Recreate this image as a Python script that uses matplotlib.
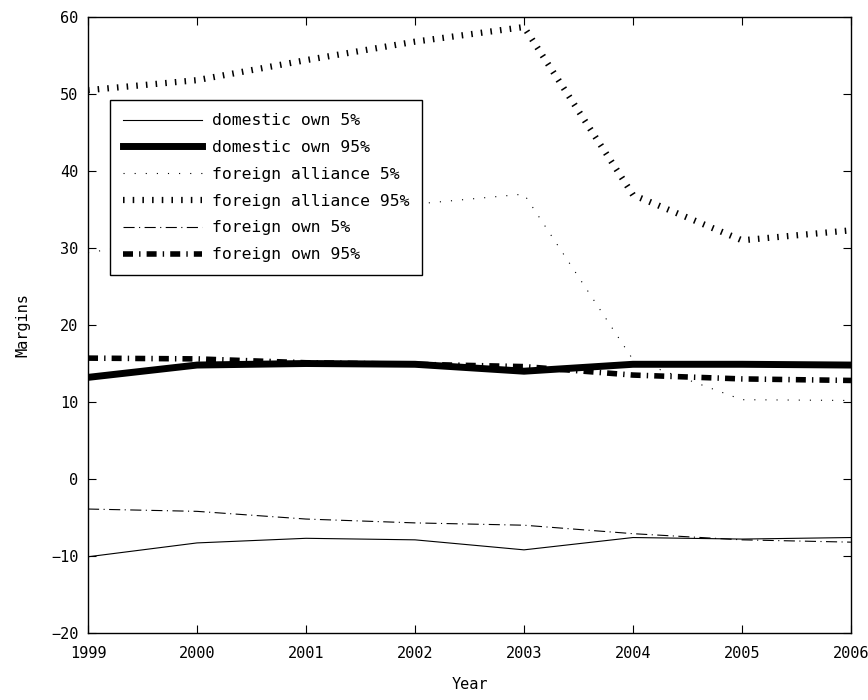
import numpy as np
import matplotlib
matplotlib.use('Agg')
import matplotlib.pyplot as plt

years = [1999, 2000, 2001, 2002, 2003, 2004, 2005, 2006]

dom_own_5 = [-10.1, -8.3, -7.7, -7.9, -9.2, -7.6, -7.8, -7.6]
dom_own_95 = [13.2, 14.8, 15.0, 14.9, 14.0, 14.9, 14.9, 14.8]
for_all_5 = [29.4, 31.5, 33.8, 35.7, 37.0, 15.5, 10.3, 10.2]
for_all_95 = [50.5, 51.8, 54.4, 56.8, 58.7, 36.9, 31.0, 32.3]
for_own_5 = [-3.9, -4.2, -5.2, -5.7, -6.0, -7.1, -7.9, -8.2]
for_own_95 = [15.7, 15.6, 15.1, 14.9, 14.6, 13.5, 13.0, 12.8]

labels = ['domestic own 5%', 'domestic own 95%', 'foreign alliance 5%',
          'foreign alliance 95%', 'foreign own 5%', 'foreign own 95%']

plt.rcParams['font.family'] = ['DejaVu Sans Mono']

fig = plt.figure(figsize=(8.68, 7.0), dpi=100)
ax = fig.add_axes([0.1014, 0.0957, 0.879, 0.88])

ax.plot(years, dom_own_5, color='black', linewidth=0.8, label=labels[0])
ax.plot(years, dom_own_95, color='black', linewidth=5, label=labels[1])
ax.plot(years, for_all_5, color='black', linewidth=0.8,
        linestyle=(0, (1, 9)), label=labels[2])
ax.plot(years, for_all_95, color='black', linewidth=4.5,
        linestyle=(0, (0.25, 1.3)), dash_capstyle='butt', label=labels[3])
ax.plot(years, for_own_5, color='black', linewidth=0.8,
        linestyle=(0, (10, 4, 1, 4)), label=labels[4])
ax.plot(years, for_own_95, color='black', linewidth=4,
        linestyle=(0, (1.8, 1.1, 0.25, 1.1)), dash_capstyle='butt',
        label=labels[5])

ax.set_xlim(1999, 2006)
ax.set_ylim(-20, 60)
ax.set_xticks(years)
ax.set_yticks(np.arange(-20, 61, 10))
ax.tick_params(direction='in', top=True, right=True, length=6, labelsize=11)
ax.tick_params(axis='x', pad=9)
ax.tick_params(axis='y', pad=7)
for s in ax.spines.values():
    s.set_linewidth(1.0)

ax.set_xlabel('Year', fontsize=11, labelpad=12)
ax.set_ylabel('Margins', fontsize=11, labelpad=15)

leg = ax.legend(loc='upper left', bbox_to_anchor=(0.029, 0.865), fontsize=11.8,
                handlelength=4.8, handletextpad=0.6, labelspacing=0.72,
                fancybox=False, framealpha=1, edgecolor='black',
                borderpad=0.8, borderaxespad=0)
leg.get_frame().set_linewidth(1.0)

fig.savefig('out.png', dpi=100)
